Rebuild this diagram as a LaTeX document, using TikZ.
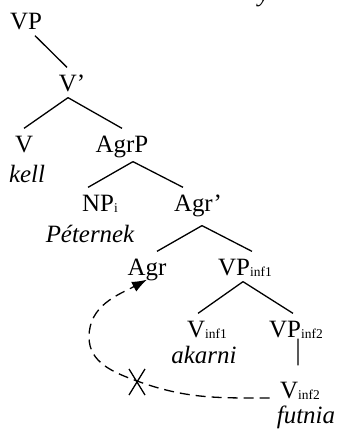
\documentclass[tikz,border=0pt]{standalone}
\usepackage{fontspec}
\setmainfont{Liberation Serif}
\usetikzlibrary{arrows.meta}
\newcommand\lowsub[1]{\raisebox{-1.5bp}{\fontsize{13.5}{14}\selectfont #1}}

\begin{document}
\begin{tikzpicture}[x=1bp,y=1bp,line width=1.3bp,
  cat/.style={anchor=base,text height=17bp,text depth=0pt,inner xsep=1bp,inner ysep=6bp,font=\fontsize{25}{30}\selectfont},
  gloss/.style={anchor=base,inner sep=0pt,font=\fontsize{25}{30}\selectfont\itshape},
  move/.style={dash pattern=on 10bp off 6bp,-{Latex[length=15bp,width=11bp]}}]
\useasboundingbox (0,0) rectangle (341,-429);
\node[gloss] (cut) at (264,-1) {y};
\node[cat] (vp) at (26,-29) {VP};
\node[cat] (vbar) at (72,-91) {V’};
\node[cat] (v) at (24,-152) {V};
\node[gloss] (kell) at (27,-182) {kell};
\node[cat] (agrp) at (122,-152) {AgrP};
\node[cat] (np) at (100,-211) {NP\lowsub{i}};
\node[cat] (agrbar) at (198,-211) {Agr’};
\node[gloss] (peternek) at (90,-242) {Péternek};
\node[cat] (agr) at (147,-275) {Agr};
\node[cat] (vpinfa) at (245,-275) {VP\lowsub{inf1}};
\node[cat] (vinfa) at (207,-337) {V\lowsub{inf1}};
\node[cat] (vpinfb) at (296,-337) {VP\lowsub{inf2}};
\node[gloss] (akarni) at (204,-363) {akarni};
\node[cat] (vinfb) at (300,-398) {V\lowsub{inf2}};
\node[gloss] (futnia) at (306,-423) {futnia};
\draw ([xshift=9]vp.south) -- ([xshift=-5]vbar.north);
\draw ([xshift=-4]vbar.south) -- (v.north);
\draw ([xshift=-4]vbar.south) -- (agrp.north);
\draw ([xshift=11,yshift=-3]agrp.south) -- ([xshift=-12]np.north);
\draw ([xshift=11,yshift=-3]agrp.south) -- ([xshift=-15]agrbar.north);
\draw ([xshift=4,yshift=-8]agrbar.south) -- ([xshift=10]agr.north);
\draw ([xshift=4,yshift=-8]agrbar.south) -- ([xshift=7]vpinfa.north);
\draw ([xshift=-2]vpinfa.south) -- ([xshift=-9]vinfa.north);
\draw ([xshift=-2]vpinfa.south) -- ([xshift=-3]vpinfb.north);
\draw ([xshift=2,yshift=5]vpinfb.south) -- ([xshift=-2,yshift=9]vinfb.north);
\coordinate (cross) at (137,-381);
\coordinate (bend) at (89,-337);
\draw[move] ([xshift=-9]vinfb.base west) to[out=180,in=-20] (cross) to[out=160,in=-90] (bend) to[out=90,in=208] ([yshift=2]agr.south);
\draw ([shift={(-8,12)}]cross) -- ([shift={(8,-14)}]cross);
\draw ([shift={(8,12)}]cross) -- ([shift={(-8,-14)}]cross);
\end{tikzpicture}
\end{document}
